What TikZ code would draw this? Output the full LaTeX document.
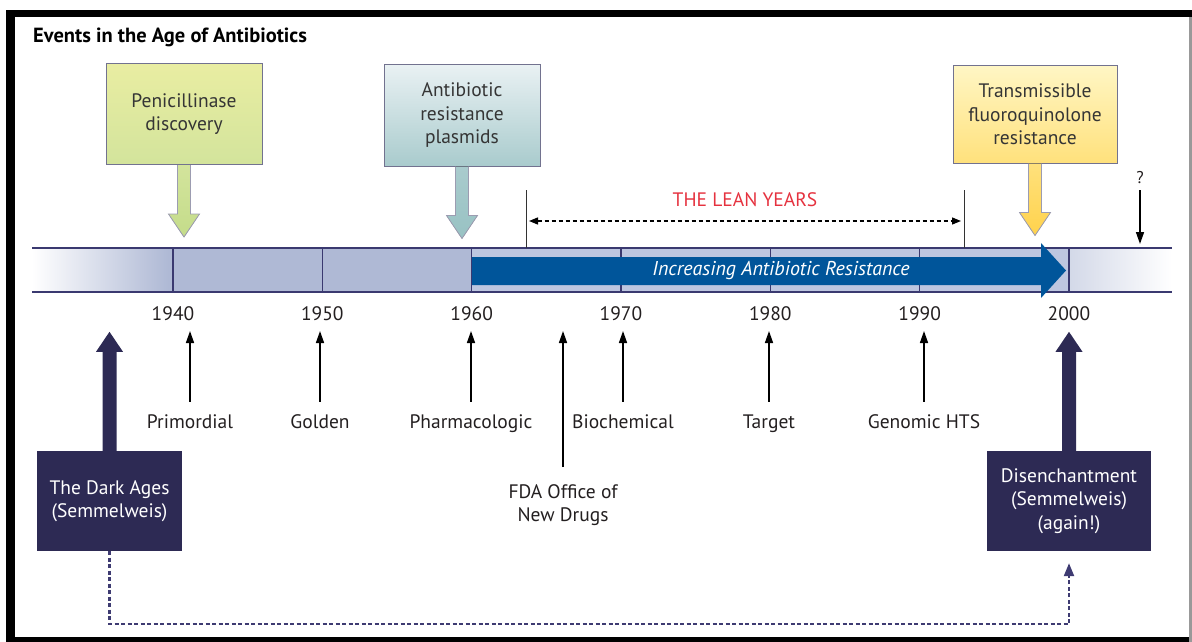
\documentclass[tikz,border=0pt]{standalone}
\usepackage{fontspec}
\setmainfont{PT Sans}
\usetikzlibrary{positioning, arrows.meta, calc}

\definecolor{barfill}{HTML}{AFB9D5}
\definecolor{barstrip}{HTML}{BDC6E0}
\definecolor{barline}{HTML}{3A3970}
\definecolor{resblue}{HTML}{00559A}
\definecolor{navybox}{HTML}{2D2A54}
\definecolor{dashnavy}{HTML}{3E3B72}
\definecolor{leanred}{HTML}{E5323F}
\definecolor{boxline}{HTML}{72728F}
\definecolor{boxtext}{HTML}{353535}
\definecolor{labeltext}{HTML}{231F20}
\definecolor{penTop}{HTML}{E9EDA2}
\definecolor{penBot}{HTML}{D3E49C}
\definecolor{penTip}{HTML}{C4DC8A}
\definecolor{plasTop}{HTML}{E9F1F3}
\definecolor{plasBot}{HTML}{A9CBCD}
\definecolor{plasTip}{HTML}{98C2C3}
\definecolor{fluoTop}{HTML}{FFF6C4}
\definecolor{fluoBot}{HTML}{FFE17C}
\definecolor{fluoTip}{HTML}{FFD24C}

\begin{document}
\begin{tikzpicture}[x=1pt, y=-1pt, font=\fontsize{19.5}{23.5}\selectfont,
    topbox/.style={draw=boxline, line width=1pt, minimum width=156pt, minimum height=101pt, align=center, text=boxtext},
    darkbox/.style={fill=navybox, text=white, minimum height=100pt, align=center},
    penarrow/.style={draw=boxline!70, line width=0.8pt, top color=penBot, bottom color=penTip},
    plasarrow/.style={draw=boxline!70, line width=0.8pt, top color=plasBot, bottom color=plasTip},
    fluoarrow/.style={draw=boxline!70, line width=0.8pt, top color=fluoBot, bottom color=fluoTip},
    lbl/.style={anchor=base, inner sep=0pt, text height=13.5pt, text depth=4pt, text=labeltext},
    yearlbl/.style={anchor=base, inner sep=0pt, text=labeltext},
    uparrow/.style={-{Triangle[width=8pt, length=12pt]}, line width=1.5pt, shorten <=12.5pt},
    divider/.style={barline, line width=1.5pt},
    tick/.style={black!80, line width=1pt},
    leanarrow/.style={{Triangle[width=7pt, length=9pt]}-{Triangle[width=7pt, length=9pt]}, line width=1.3pt, dash pattern=on 4pt off 3pt},
    backdash/.style={dashnavy, line width=2.2pt, dash pattern=on 4pt off 2.5pt, -{Triangle[width=10pt, length=13pt]}}]

    \useasboundingbox (0,0) rectangle (1192,642);

    % Frame
    \fill[black] (6,10) rectangle (1192,17);
    \fill[black] (6,10) rectangle (15,642);
    \fill[black] (6,637) rectangle (1189,642);
    \fill[black!40] (1189,17) rectangle (1192,642);

    % Title
    \node[anchor=base west, inner sep=0pt, font=\fontsize{20.5}{24}\selectfont\bfseries] (title) at (33,42.5) {Events in the Age of Antibiotics};

    % Timeline bar
    \shade[left color=white, right color=barfill] (32,249) rectangle (168,291);
    \fill[barfill] (168,249) rectangle (472,291);
    \fill[barstrip] (472,249) rectangle (1069,291);
    \shade[left color=barfill!55, right color=white] (1069,249) rectangle (1172,291);

    % Decades
    \foreach \yr [count=\i from 0] in {1940,1950,...,2000} {
        \pgfmathsetmacro{\xx}{173+\i*149.33}
        \draw[divider] (\xx,248) -- (\xx,292);
        \node[yearlbl] (y\yr) at (\xx,320) {\yr};
    }
    \draw[barline, line width=2pt] (32,248) -- (1172,248);
    \draw[barline, line width=2pt] (32,292) -- (1172,292);

    % Increasing resistance
    \fill[resblue] (472,257) -- (1041,257) -- (1041,243) -- (1066,270.5) -- (1041,298) -- (1041,285) -- (472,285) -- cycle;
    \node[text=white, font=\fontsize{20}{24}\selectfont\itshape] (resist) at (781,271) {Increasing Antibiotic Resistance};

    % Event boxes above
    \node[topbox, top color=penTop, bottom color=penBot] (pen) at (184,114) {Penicillinase\\discovery};
    \node[topbox, top color=plasTop, bottom color=plasBot] (plas) at (462,115.5) {Antibiotic\\resistance\\plasmids};
    \node[topbox, minimum width=164pt, minimum height=97pt, top color=fluoTop, bottom color=fluoBot] (fluo) at (1035,114.5) {Transmissible\\fluoroquinolone\\resistance};

    \foreach \b/\s in {pen/penarrow, plas/plasarrow, fluo/fluoarrow} {
        \filldraw[\s] ($(\b.south)+(-6.5,0)$) -- ($(\b.south)+(-6.5,49)$) -- ($(\b.south)+(-15.5,49)$)
            -- ($(\b.south)+(0,72)$) -- ($(\b.south)+(15.5,49)$) -- ($(\b.south)+(6.5,49)$) -- ($(\b.south)+(6.5,0)$);
    }

    % The lean years
    \coordinate (barTop) at (0,248);
    \coordinate (leanL) at (526,190);
    \coordinate (leanR) at (964,190);
    \draw[tick] (leanL) -- (leanL |- barTop);
    \draw[tick] (leanR) -- (leanR |- barTop);
    \draw[leanarrow] ($(leanL)+(3,31)$) -- ($(leanR)+(-3,31)$);
    \node[text=leanred, font=\fontsize{19.5}{23}\selectfont] (lean) at (745,200) {THE LEAN YEARS};

    % Unknown future
    \node[inner sep=0pt, text=labeltext, font=\fontsize{17}{20}\selectfont] (qmark) at (1140,178) {?};
    \coordinate (qTip) at (1140,244);
    \draw[-{Triangle[width=8pt, length=12pt]}, line width=1.5pt, shorten <=6pt] (qmark) -- (qTip);

    % Eras below
    \coordinate (axisLow) at (0,331);
    \node[lbl] (prim) at (190,428) {Primordial};
    \node[lbl] (gold) at (320,428) {Golden};
    \node[lbl] (pharm) at (471,428) {Pharmacologic};
    \node[lbl] (bioc) at (623,428) {Biochemical};
    \node[lbl] (targ) at (769,428) {Target};
    \node[lbl] (geno) at (924,428) {Genomic HTS};
    \node[anchor=north, inner sep=0pt, align=center, text=labeltext] (fda) at (563,484) {FDA Office of\\New Drugs};

    \foreach \n in {prim, gold, pharm, bioc, targ, geno}
        \draw[uparrow] (\n) -- (\n |- axisLow);
    \draw[uparrow, shorten <=17pt] (fda) -- (fda |- axisLow);

    % Dark ages and disenchantment
    \node[darkbox, minimum width=145pt] (dark) at (109.5,501) {The Dark Ages\\(Semmelweis)};
    \node[darkbox, minimum width=164pt] (dis) at (1069,501) {Disenchantment\\(Semmelweis)\\(again!)};

    \foreach \b in {dark, dis} {
        \fill[navybox] ($(\b.north)+(-7,0)$) -- ($(\b.north)+(-7,-99)$) -- ($(\b.north)+(-13.5,-99)$)
            -- ($(\b.north)+(0,-119)$) -- ($(\b.north)+(13.5,-99)$) -- ($(\b.north)+(7,-99)$) -- ($(\b.north)+(7,0)$) -- cycle;
    }
    \draw[backdash] (dark.south) -- ++(0,73) -| ($(dis.south)+(0,12)$);

\end{tikzpicture}
\end{document}
